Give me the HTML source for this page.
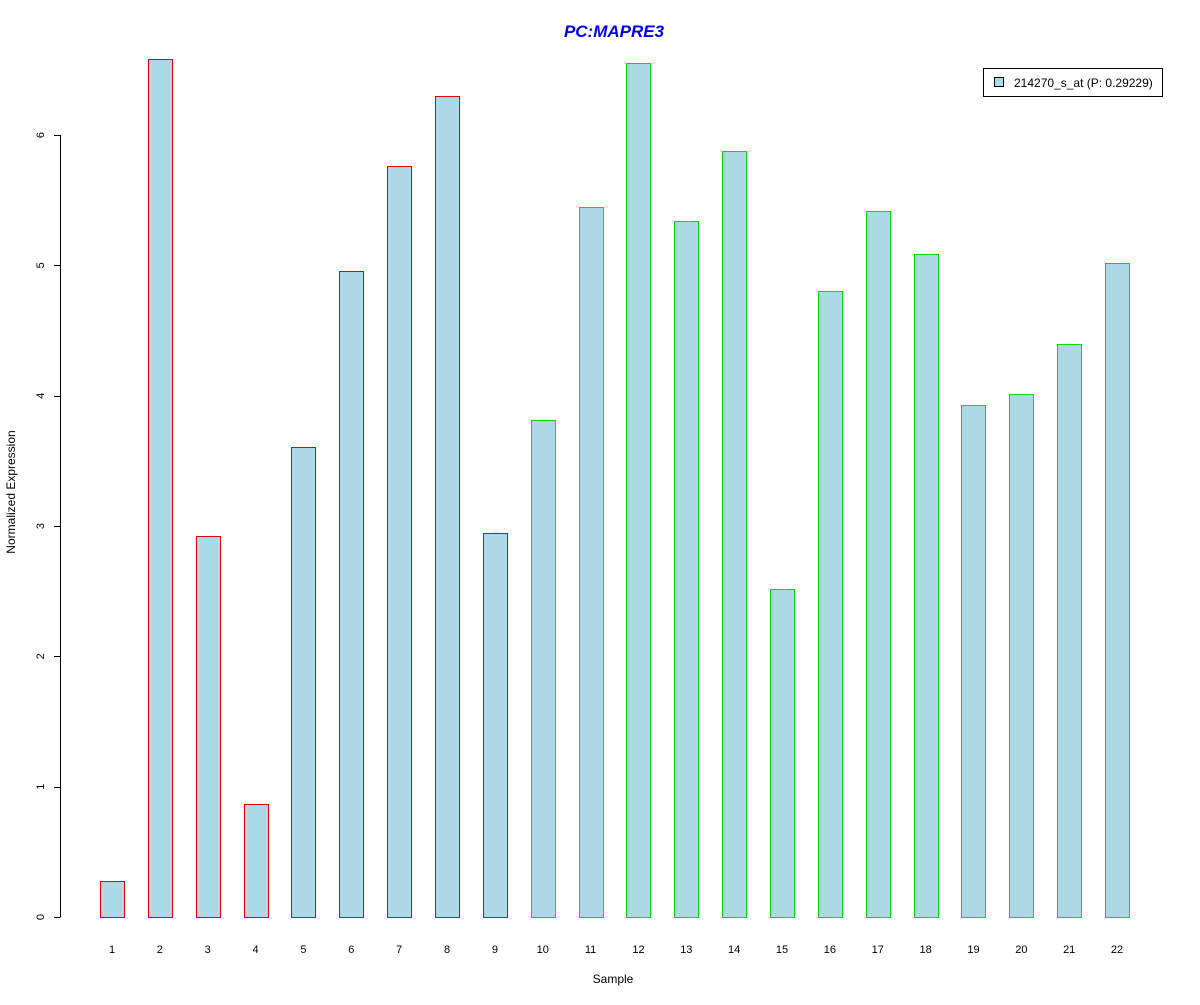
<!DOCTYPE html>
<html><head><meta charset="utf-8"><style>
body{margin:0;background:#fff}
svg text{font-family:"Liberation Sans",Arial,sans-serif}
</style></head><body>
<svg id="chart" width="1200" height="1000" xmlns="http://www.w3.org/2000/svg">
<rect width="1200" height="1000" fill="#fff"/>
<text x="614" y="37" text-anchor="middle" font-size="17" font-weight="bold" font-style="italic" fill="#0000ee">PC:MAPRE3</text>
<text x="613" y="983" text-anchor="middle" font-size="12">Sample</text>
<text transform="translate(15,492) rotate(-90)" text-anchor="middle" font-size="12">Normalized Expression</text>
<g id="yaxis"></g>
<g id="bars"></g>
<g id="xlabels"></g>
<g>
<rect x="983.5" y="68.5" width="179" height="28" fill="#fff" stroke="#000"/>
<rect x="994.5" y="77.5" width="9" height="9" fill="#add8e6" stroke="#000"/>
<text x="1014" y="87" font-size="12">214270_s_at (P: 0.29229)</text>
</g>
</svg>
<script>
const categories=["1","2","3","4","5","6","7","8","9","10","11","12","13","14","15","16","17","18","19","20","21","22"];
const values=[0.28,6.58,2.92,0.87,3.61,4.96,5.76,6.30,2.95,3.81,5.45,6.55,5.34,5.88,2.52,4.80,5.42,5.09,3.93,4.01,4.40,5.02];
const groups=["a","a","a","a","a","a","a","a","a","b","b","b","b","b","b","b","b","b","b","b","b","b"];
const yTicks=[0,1,2,3,4,5,6];
const NS="http://www.w3.org/2000/svg";
const y=v=>917-v*130.33;
const x=i=>112+i*47.86;
const ya=document.getElementById('yaxis');
function mk(t,a,p){const e=document.createElementNS(NS,t);for(const k in a)e.setAttribute(k,a[k]);p.appendChild(e);return e;}
const al=mk('line',{x1:60.5,x2:60.5,y1:y(0),y2:y(6),stroke:'#000'},ya);


yTicks.forEach(t=>{
 const l=mk('line',{x1:54,x2:60.5,y1:Math.round(y(t))+0.5,y2:Math.round(y(t))+0.5,stroke:'#000'},ya);
 
 
 const tx=mk('text',{transform:`translate(44,${y(t)}) rotate(-90)`,'text-anchor':'middle','font-size':11},ya);
 tx.textContent=t;
 
 
});
const bg=document.getElementById('bars'),xl=document.getElementById('xlabels');
values.forEach((v,i)=>{
 const cx=x(i);
 const r=mk('rect',{x:Math.round(cx-12)+0.5,y:Math.round(y(v))+0.5,width:24,height:Math.round(y(0))-Math.round(y(v)),fill:'#add8e6',stroke:groups[i]==='a'?'#e00000':'#00e000'},bg);
 
 
 const t=mk('text',{x:cx,y:953,'text-anchor':'middle','font-size':11},xl);
 t.textContent=categories[i];
 
 
});
</script>
</body></html>
